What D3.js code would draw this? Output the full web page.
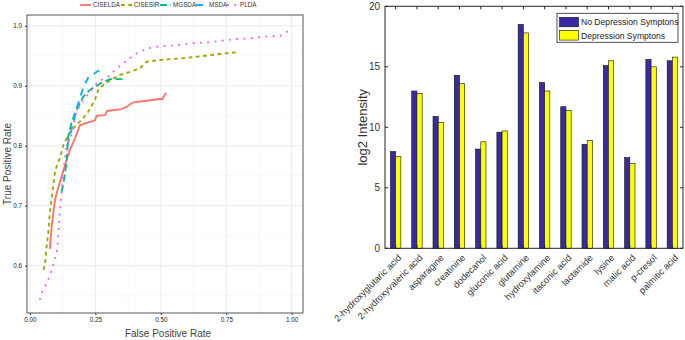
<!doctype html>
<html lang="en">
<head>
<meta charset="utf-8">
<title>ROC curves and metabolite intensities</title>
<script src="https://cdn.jsdelivr.net/npm/d3@7"></script>
<style>
  body { margin: 0; background: #fff; }
  svg { font-family: "Liberation Sans", Arial, sans-serif; }
</style>
</head>
<body>
<script>

// ---- left panel: ROC curves (fpr, tpr) ----
var methods = ["CISELDA", "CISESIR", "MGSDA", "MSDA", "PLDA"];
var ciseldaPts = [[0.076,0.628],[0.083,0.665],[0.096,0.71],[0.108,0.73],[0.121,0.748],[0.14,0.776],
    [0.153,0.793],[0.172,0.812],[0.191,0.834],[0.217,0.838],[0.248,0.842],[0.255,0.85],[0.287,0.851],
    [0.295,0.858],[0.35,0.861],[0.37,0.865],[0.392,0.872],[0.446,0.875],[0.497,0.878],[0.506,0.878],[0.52,0.888]];
var cisesirPts = [[0.051,0.593],[0.057,0.6],[0.064,0.632],[0.07,0.654],[0.076,0.687],[0.089,0.732],
    [0.096,0.757],[0.102,0.765],[0.115,0.78],[0.127,0.8],[0.14,0.812],[0.153,0.822],[0.172,0.832],
    [0.204,0.846],[0.223,0.857],[0.248,0.876],[0.261,0.893],[0.28,0.901],[0.306,0.909],[0.344,0.918],
    [0.382,0.923],[0.42,0.929],[0.446,0.94],[0.497,0.943],[0.586,0.946],[0.65,0.949],[0.726,0.953],[0.796,0.956]];
var mgsdaPts = [[0.121,0.723],[0.127,0.735],[0.14,0.771],[0.146,0.815],[0.159,0.838],[0.172,0.854],
    [0.191,0.871],[0.204,0.882],[0.229,0.893],[0.248,0.898],[0.274,0.905],[0.306,0.911],[0.344,0.911],[0.363,0.911]];
var msdaPts = [[0.143,0.8],[0.155,0.82],[0.166,0.838],[0.178,0.862],[0.19,0.877],[0.201,0.893],
    [0.213,0.905],[0.223,0.914],[0.245,0.92],[0.261,0.925],[0.28,0.924]];
var pldaPts = [[0.038,0.543],[0.047,0.557],[0.064,0.57],[0.085,0.594],[0.093,0.608],[0.102,0.62],
    [0.106,0.634],[0.112,0.676],[0.117,0.704],[0.121,0.72],[0.127,0.757],[0.14,0.798],[0.159,0.82],
    [0.178,0.857],[0.204,0.876],[0.236,0.893],[0.255,0.904],[0.274,0.91],[0.299,0.915],[0.331,0.929],
    [0.357,0.937],[0.382,0.946],[0.408,0.954],[0.446,0.962],[0.484,0.965],[0.51,0.966],[0.567,0.968],
    [0.624,0.971],[0.675,0.972],[0.732,0.975],[0.79,0.978],[0.841,0.979],[0.898,0.982],[0.955,0.983],
    [0.981,0.99],[1.0,0.994]];
var rocXTicks = [0, 0.25, 0.5, 0.75, 1.0];
var rocYTicks = [0.6, 0.7, 0.8, 0.9, 1.0];

// ---- right panel: grouped bars ----
var metabolites = ["2-hydroxyglutaric acid", "2-hydroxyvaleric acid", "asparagine", "creatinine",
    "dodecanol", "gluconic acid", "glutamine", "hydroxylamine", "itaconic acid", "lactamide",
    "lysine", "malic acid", "p-cresol", "palmitic acid"];
var groups = ["No Depression Symptons", "Depression Symptons"];
var noDepression = [8.0, 13.0, 10.9, 14.3, 8.2, 9.6, 18.5, 13.7, 11.7, 8.6, 15.1, 7.5, 15.6, 15.5];
var depression   = [7.6, 12.8, 10.4, 13.6, 8.8, 9.7, 17.8, 13.0, 11.4, 8.9, 15.5, 7.0, 15.0, 15.8];
var barYTicks = [0, 5, 10, 15, 20];

var W = 685, H = 340;
var svg = d3.select("body").append("svg")
    .attr("width", W).attr("height", H);

// ================= left panel =================
var roc = {left: 27, right: 303, top: 15, bottom: 313};
var x = d3.scaleLinear().domain([-0.011, 1.043]).range([roc.left, roc.right]);
var y = d3.scaleLinear().domain([0.521, 1.018]).range([roc.bottom, roc.top]);

var colors = d3.scaleOrdinal().domain(methods)
    .range(["#F8766D", "#A3A500", "#00BF7D", "#00B0F6", "#E76BF3"]);
var dashes = {CISELDA: null, CISESIR: "3.8,3.5", MGSDA: "7,3.5", MSDA: "7,6", PLDA: "2,5.3"};

var left = svg.append("g");

// minor + major grid
var minorX = rocXTicks.slice(0, -1).map(d => d + 0.125);
var minorY = [0.55].concat(rocYTicks.slice(0, -1).map(d => +(d + 0.05).toFixed(2)));
left.selectAll(".gxm").data(minorX).enter().append("line")
    .attr("x1", d => x(d)).attr("x2", d => x(d)).attr("y1", roc.top).attr("y2", roc.bottom)
    .attr("stroke", "#f4f4f4").attr("stroke-width", 0.6);
left.selectAll(".gym").data(minorY).enter().append("line")
    .attr("y1", d => y(d)).attr("y2", d => y(d)).attr("x1", roc.left).attr("x2", roc.right)
    .attr("stroke", "#f4f4f4").attr("stroke-width", 0.6);
left.selectAll(".gx").data(rocXTicks).enter().append("line")
    .attr("x1", d => x(d)).attr("x2", d => x(d)).attr("y1", roc.top).attr("y2", roc.bottom)
    .attr("stroke", "#ebebeb").attr("stroke-width", 1);
left.selectAll(".gy").data(rocYTicks).enter().append("line")
    .attr("y1", d => y(d)).attr("y2", d => y(d)).attr("x1", roc.left).attr("x2", roc.right)
    .attr("stroke", "#ebebeb").attr("stroke-width", 1);

var series = [ciseldaPts, cisesirPts, mgsdaPts, msdaPts, pldaPts];
var line = d3.line().x(d => x(d[0])).y(d => y(d[1]));

left.selectAll("path.roc")
    .data(methods)
    .enter()
    .append("path")
    .attr("class", "roc")
    .attr("d", (d, i) => line(series[i]))
    .attr("fill", "none")
    .attr("stroke", d => colors(d))
    .attr("stroke-width", 1.9)
    .attr("stroke-dasharray", d => dashes[d]);

left.append("rect")
    .attr("x", roc.left).attr("y", roc.top)
    .attr("width", roc.right - roc.left).attr("height", roc.bottom - roc.top)
    .attr("fill", "none").attr("stroke", "#555").attr("stroke-width", 1);

var xAxisL = d3.axisBottom(x).tickValues(rocXTicks).tickFormat(d3.format(".2f")).tickSize(2).tickPadding(3);
var yAxisL = d3.axisLeft(y).tickValues(rocYTicks).tickFormat(d3.format(".1f")).tickSize(2).tickPadding(3);
var gxL = left.append("g").attr("transform", "translate(0," + roc.bottom + ")").call(xAxisL);
var gyL = left.append("g").attr("transform", "translate(" + roc.left + ",0)").call(yAxisL);
[gxL, gyL].forEach(g => {
    g.select(".domain").remove();
    g.selectAll("line").attr("stroke", "#333");
    g.selectAll("text").attr("font-size", 6.3).attr("fill", "#222")
     .attr("font-family", "'Liberation Sans', Arial, sans-serif");
});

left.append("text")
    .attr("x", (roc.left + roc.right) / 2 + 3).attr("y", 337)
    .attr("text-anchor", "middle").attr("font-size", 10).attr("fill", "#444")
    .text("False Positive Rate");
left.append("text")
    .attr("transform", "translate(11," + ((roc.top + roc.bottom) / 2) + ") rotate(-90)")
    .attr("text-anchor", "middle").attr("font-size", 10).attr("fill", "#444")
    .text("True Positive Rate");

// legend along the top
var legendX = [80, 121, 160, 196, 227];
var lg = left.selectAll(".lg").data(methods).enter().append("g")
    .attr("transform", (d, i) => "translate(" + legendX[i] + ",5)");
lg.append("line")
    .attr("x1", 0).attr("x2", 11).attr("y1", 0).attr("y2", 0)
    .attr("stroke", d => colors(d)).attr("stroke-width", 1.9)
    .attr("stroke-dasharray", d => dashes[d]);
lg.append("text")
    .attr("x", 13).attr("y", 2.3)
    .attr("font-size", 6.3).attr("fill", "#333")
    .text(d => d);

// ================= right panel =================
var bar = {left: 385, right: 683, top: 6.3, bottom: 248.3};
var x0 = d3.scaleBand().domain(metabolites).range([bar.left, bar.right]).padding(0);
var x1 = d3.scaleBand().domain(groups).range([-5.2, 5.2]).padding(0);
var yb = d3.scaleLinear().domain([0, 20]).range([bar.bottom, bar.top]);
var barColors = d3.scaleOrdinal().domain(groups).range(["#3a2a9f", "#ffff00"]);

var right = svg.append("g");
var rows = metabolites.map((m, i) => ({name: m, vals: [noDepression[i], depression[i]]}));

var grp = right.selectAll(".grp").data(rows).enter().append("g")
    .attr("transform", d => "translate(" + (x0(d.name) + x0.bandwidth() / 2) + ",0)");
grp.selectAll("rect")
    .data(d => d.vals.map((v, j) => ({g: groups[j], v: v})))
    .enter()
    .append("rect")
    .attr("x", d => x1(d.g))
    .attr("y", d => yb(d.v))
    .attr("width", x1.bandwidth())
    .attr("height", d => yb(0) - yb(d.v))
    .attr("fill", d => barColors(d.g))
    .attr("stroke", "#111")
    .attr("stroke-width", 0.6);

right.append("rect")
    .attr("x", bar.left).attr("y", bar.top)
    .attr("width", bar.right - bar.left).attr("height", bar.bottom - bar.top)
    .attr("fill", "none").attr("stroke", "#262626").attr("stroke-width", 1);

// inward ticks on all four sides (MATLAB style)
var centers = metabolites.map(m => x0(m) + x0.bandwidth() / 2);
right.selectAll(".tb").data(centers).enter().append("line")
    .attr("x1", d => d).attr("x2", d => d).attr("y1", bar.bottom).attr("y2", bar.bottom - 3)
    .attr("stroke", "#262626");
right.selectAll(".tt").data(centers).enter().append("line")
    .attr("x1", d => d).attr("x2", d => d).attr("y1", bar.top).attr("y2", bar.top + 3)
    .attr("stroke", "#262626");
right.selectAll(".tl").data(barYTicks).enter().append("line")
    .attr("x1", bar.left).attr("x2", bar.left + 3).attr("y1", d => yb(d)).attr("y2", d => yb(d))
    .attr("stroke", "#262626");
right.selectAll(".tr").data(barYTicks).enter().append("line")
    .attr("x1", bar.right).attr("x2", bar.right - 3).attr("y1", d => yb(d)).attr("y2", d => yb(d))
    .attr("stroke", "#262626");

right.selectAll(".yl").data(barYTicks).enter().append("text")
    .attr("x", bar.left - 5).attr("y", d => yb(d)).attr("dy", "0.35em")
    .attr("text-anchor", "end").attr("font-size", 10).attr("fill", "#333")
    .text(d => d);

right.selectAll(".xl").data(metabolites).enter().append("text")
    .attr("transform", d => "translate(" + (x0(d) + x0.bandwidth() / 2 + 4) + ",256) rotate(-45)")
    .attr("dy", "0.35em")
    .attr("text-anchor", "end").attr("font-size", 9.3).attr("fill", "#333")
    .text(d => d);

right.append("text")
    .attr("transform", "translate(367," + ((bar.top + bar.bottom) / 2) + ") rotate(-90)")
    .attr("text-anchor", "middle").attr("font-size", 13).attr("fill", "#333")
    .text("log2 Intensity");

// legend box
var lb = right.append("g").attr("transform", "translate(557,13.3)");
lb.append("rect").attr("width", 121).attr("height", 29)
    .attr("fill", "#fff").attr("stroke", "#262626").attr("stroke-width", 0.8);
var li = lb.selectAll(".li").data(groups).enter().append("g")
    .attr("transform", (d, i) => "translate(2.5," + (4 + i * 13.3) + ")");
li.append("rect").attr("width", 19).attr("height", 9.5)
    .attr("fill", d => barColors(d)).attr("stroke", "#111").attr("stroke-width", 0.6);
li.append("text").attr("x", 21.5).attr("y", 4.9).attr("dy", "0.35em")
    .attr("font-size", 8.6).attr("fill", "#222")
    .text(d => d);

</script>
</body>
</html>
